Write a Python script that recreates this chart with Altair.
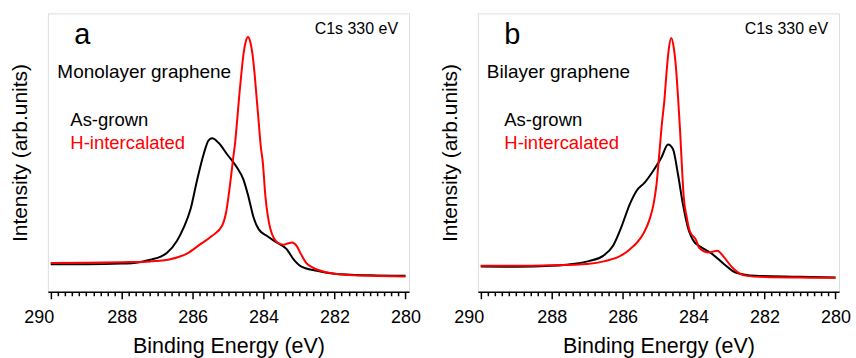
import altair as alt
import pandas as pd

FONT = "Liberation Sans"
RED = "#ff0000"

# x axis: binding energy ticks (eV)
major_ticks = [290, 288, 286, 284, 282, 280]
minor_step = 0.2
tick_values = [round(280 + minor_step * i, 1) for i in range(int((290 - 280) / minor_step) + 1)]

# ---- Monolayer graphene (panel a) ----
mono_grown_ev = [290.0, 289.0, 288.0, 287.5, 287.19, 286.9, 286.72, 286.44, 286.25, 286.06,
                 285.88, 285.69, 285.55, 285.45, 285.27, 285.03, 284.75, 284.57, 284.42, 284.28,
                 284.14, 283.91, 283.63, 283.35, 283.16, 282.97, 282.5, 282.0, 281.0, 280.0]
mono_grown_int = [9.9, 9.9, 10.1, 10.6, 11.5, 12.6, 14.0, 18.3, 23.1, 29.6,
                  39.8, 49.4, 54.4, 55.1, 53.5, 49.4, 44.6, 40.4, 33.8, 26.6,
                  22.5, 20.1, 17.7, 15.3, 11.7, 9.3, 7.5, 6.5, 5.9, 5.7]

mono_h_ev = [290.0, 289.0, 288.0, 287.19, 286.63, 286.16, 285.78, 285.45, 285.17, 285.05,
             284.95, 284.86, 284.8, 284.74, 284.68, 284.62, 284.56, 284.5, 284.44, 284.38,
             284.32, 284.26, 284.2, 284.14, 284.08, 284.02, 283.95, 283.88, 283.81, 283.7,
             283.6, 283.44, 283.3, 283.2, 283.07, 282.95, 282.8, 282.6, 282.3, 282.0,
             281.0, 280.0]
mono_h_int = [10.3, 10.4, 10.6, 10.9, 11.7, 13.7, 17.1, 20.1, 23.7, 29.0,
              38.0, 47.7, 53.8, 62.4, 71.3, 79.2, 86.0, 90.0, 91.5, 90.0,
              86.0, 79.2, 70.3, 61.3, 52.3, 46.2, 34.4, 27.2, 22.6, 19.0,
              17.6, 16.9, 17.4, 17.7, 16.5, 13.6, 10.4, 8.6, 7.2, 6.5,
              5.7, 5.5]

# ---- Bilayer graphene (panel b) ----
bi_grown_ev = [290.0, 289.0, 288.0, 287.59, 286.93, 286.55, 286.27, 286.04, 285.8, 285.61,
               285.38, 285.14, 284.91, 284.72, 284.58, 284.44, 284.3, 284.16, 283.97, 283.85,
               283.47, 283.14, 282.82, 282.25, 281.0, 280.0]
bi_grown_int = [9.1, 9.0, 9.3, 9.7, 11.1, 12.9, 16.5, 23.1, 31.4, 36.2,
                39.2, 43.4, 48.1, 52.9, 51.2, 42.2, 31.4, 23.1, 17.7, 16.5,
                13.5, 9.9, 6.9, 5.7, 5.4, 5.1]

bi_h_ev = [290.0, 289.0, 288.0, 287.0, 286.5, 286.0, 285.8, 285.6, 285.4, 285.24,
           285.12, 285.05, 284.96, 284.9, 284.82, 284.76, 284.7, 284.63, 284.56, 284.5,
           284.44, 284.38, 284.33, 284.28, 284.2, 284.11, 283.92, 283.85, 283.57, 283.33,
           283.15, 282.91, 282.7, 282.5, 282.0, 281.0, 280.0]
bi_h_int = [9.3, 9.3, 9.5, 10.0, 11.0, 13.3, 15.2, 17.6, 21.2, 26.0,
            32.0, 38.0, 50.5, 59.5, 69.2, 79.2, 87.1, 91.2, 87.8, 81.0,
            70.3, 57.7, 45.2, 34.4, 27.2, 21.9, 18.3, 15.9, 14.1, 14.7,
            12.5, 8.7, 6.5, 5.7, 5.3, 5.1, 5.0]

W, H = 362, 279

x_scale = alt.Scale(domain=[279.9, 290.08], reverse=True, nice=False, zero=False)
y_scale = alt.Scale(domain=[0, 100], nice=False, zero=False)

is_major = "datum.value % 2 == 0"
x_axis = alt.Axis(
    values=tick_values,
    title="Binding Energy (eV)",
    grid=False,
    labelExpr=f"{is_major} ? format(datum.value, 'd') : ''",
    labelOverlap=False,
    labelFlush=False,
    labelOffset={"condition": {"test": "datum.value == 290", "value": -12}, "value": 0},
    tickSize={"condition": {"test": is_major, "value": 7}, "value": 4},
    tickWidth=1.5,
    tickColor="black",
    domainColor="black",
    domainWidth=1.5,
    labelFont=FONT,
    labelFontSize=18,
    labelColor="black",
    labelPadding=10,
    titleFont=FONT,
    titleFontSize=21.5,
    titleFontWeight="normal",
    titleColor="black",
    titlePadding=9,
)
y_axis = alt.Axis(
    title="Intensity (arb.units)",
    labels=False,
    ticks=False,
    domain=False,
    grid=False,
    titleFont=FONT,
    titleFontSize=21,
    titleFontWeight="normal",
    titleColor="black",
    titlePadding=17,
)


def spectrum(ev, inten, color):
    df = pd.DataFrame({"energy": ev, "intensity": inten})
    return alt.Chart(df).mark_line(color=color, strokeWidth=2, interpolate="monotone").encode(
        x=alt.X("energy:Q", scale=x_scale, axis=x_axis),
        y=alt.Y("intensity:Q", scale=y_scale, axis=y_axis),
    )


def label(text, x, y, size, color="black", align="left"):
    return alt.Chart(pd.DataFrame({"t": [text]})).mark_text(
        align=align, baseline="alphabetic", font=FONT, fontSize=size, color=color
    ).encode(x=alt.value(x), y=alt.value(y), text="t:N")


def panel(letter, sample, grown, hydro, letter_x, sample_x, legend_x):
    return alt.layer(
        spectrum(grown[0], grown[1], "black"),
        spectrum(hydro[0], hydro[1], RED),
        label(letter, letter_x, 31, 29),
        label(sample, sample_x, 65, 19),
        label("As-grown", legend_x, 112.5, 18.5),
        label("H-intercalated", legend_x, 135.5, 18.5, color=RED),
        label("C1s 330 eV", W - 11, 20.5, 16, align="right"),
    ).properties(width=W, height=H)


left = panel("a", "Monolayer graphene", (mono_grown_ev, mono_grown_int), (mono_h_ev, mono_h_int), 26.5, 9.5, 22.5)
right = panel("b", "Bilayer graphene", (bi_grown_ev, bi_grown_int), (bi_h_ev, bi_h_int), 26.5, 9, 26.5)

chart = alt.hconcat(left, right, spacing=18).properties(
    padding={"left": 9, "top": 12, "right": 5, "bottom": 0}
).configure_view(stroke="black", strokeWidth=2).configure(background="white")

chart.save("out.html", embed_options={"renderer": "svg", "actions": False})
